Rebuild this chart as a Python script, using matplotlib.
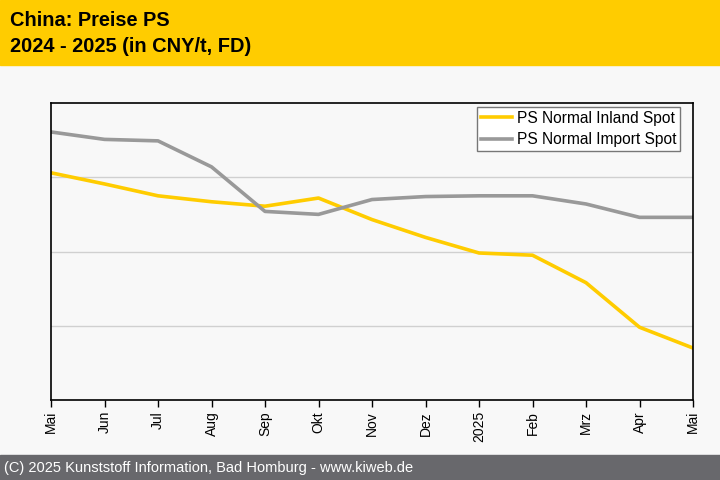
import matplotlib
matplotlib.use("Agg")
import matplotlib.pyplot as plt
import numpy as np

# ====================================================================
# DATA (CNY/t)
# ====================================================================
months = ["Mai", "Jun", "Jul", "Aug", "Sep", "Okt", "Nov", "Dez",
          "2025", "Feb", "Mrz", "Apr", "Mai"]
inland_spot = [9030, 8955, 8875, 8835, 8805, 8860, 8715, 8595,
               8490, 8475, 8290, 7990, 7850]
import_spot = [9305, 9255, 9245, 9070, 8770, 8750, 8850, 8870,
               8875, 8875, 8820, 8730, 8730]
series_labels = ["PS Normal Inland Spot", "PS Normal Import Spot"]

title_lines = ["China: Preise PS", "2024 - 2025 (in CNY/t, FD)"]
footer_text = "(C) 2025 Kunststoff Information, Bad Homburg - www.kiweb.de"

YELLOW = "#FFCC00"
GREY = "#999999"
BG = "#F8F8F8"

plt.rcParams["font.family"] = ["Liberation Sans", "DejaVu Sans"]

fig = plt.figure(figsize=(7.2, 4.8), dpi=100, facecolor=BG)

# header band
fig.patches.append(plt.Rectangle((0, 1 - 65 / 480), 1, 65 / 480,
                                 transform=fig.transFigure,
                                 color=YELLOW, zorder=0))
fig.text(10 / 720, 1 - 21 / 480, title_lines[0], fontsize=14.4,
         fontweight="bold", va="center", ha="left")
fig.text(10 / 720, 1 - 46 / 480, title_lines[1], fontsize=14.4,
         fontweight="bold", va="center", ha="left")

# footer band
fig.patches.append(plt.Rectangle((0, 0), 1, 25 / 480,
                                 transform=fig.transFigure,
                                 color="#68686C", zorder=0))
fig.text(4 / 720, 12 / 480, footer_text, fontsize=10.5, color="white",
         va="center", ha="left")

# plot area
ax = fig.add_axes([51 / 720, 80 / 480, 642 / 720, 297 / 480])
ax.set_facecolor(BG)
x = np.arange(len(months))
ax.plot(x, inland_spot, color=YELLOW, lw=2.6, label=series_labels[0],
        solid_joinstyle="round")
ax.plot(x, import_spot, color=GREY, lw=2.6, label=series_labels[1],
        solid_joinstyle="round")

ax.set_xlim(0, len(months) - 1)
ax.set_ylim(7500, 9500)
ax.set_yticks([8000, 8500, 9000])
ax.yaxis.grid(True, color="#D0D0D0", lw=1)
ax.set_axisbelow(True)
ax.tick_params(axis="y", left=False, labelleft=False)

ax.set_xticks(x)
ax.set_xticklabels(months, rotation=90, fontsize=10)
ax.tick_params(axis="x", direction="out", length=5, width=1, pad=3)

for sp in ax.spines.values():
    sp.set_color("black")
    sp.set_linewidth(1.2)

leg = ax.legend(loc="upper right", fontsize=11.2, frameon=True,
                fancybox=False, edgecolor="#777777", facecolor="white",
                framealpha=1, borderpad=0.25, labelspacing=0.4,
                handlelength=2.0, handletextpad=0.3, borderaxespad=0,
                bbox_to_anchor=(0.98, 0.9865))
leg.get_frame().set_linewidth(1)

plt.savefig("out.png", dpi=100, facecolor=fig.get_facecolor())
plt.close(fig)
